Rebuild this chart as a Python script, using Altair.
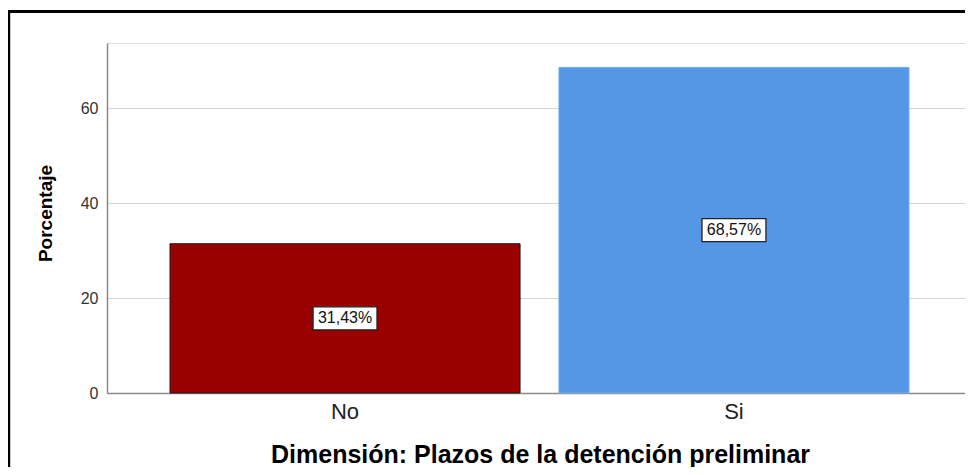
import altair as alt
import pandas as pd

categories = ["No", "Si"]
values = [31.43, 68.57]
labels = ["31,43%", "68,57%"]
bar_colors = ["#990000", "#5596E6"]
edge_colors = ["#1a1a1a", "#7aaeee"]

df = pd.DataFrame({"cat": categories, "val": values, "lab": labels})
df["mid"] = df["val"] / 2

FONT = "Liberation Sans"

x_enc = alt.X(
    "cat:N",
    sort=categories,
    scale=alt.Scale(range=[0, 865], paddingInner=0.1, paddingOuter=0.162),
    axis=alt.Axis(
        title="Dimensión: Plazos de la detención preliminar",
        labelAngle=0,
        labelFontSize=22,
        labelColor="#222222",
        labelFont=FONT,
        labelPadding=8,
        ticks=False,
        domainColor="#8a8a8a",
        domainWidth=1.5,
        titleFont=FONT,
        titleFontSize=25,
        titleFontWeight="bold",
        titleColor="#000000",
        titleX=433,
        titleY=69,
        titleAlign="center",
        titleBaseline="alphabetic",
    ),
)

y_axis = alt.Axis(
    title="Porcentaje",
    values=[0, 20, 40, 60],
    ticks=False,
    labelFontSize=16,
    labelColor="#333333",
    labelFont=FONT,
    labelPadding=9,
    domainColor="#8a8a8a",
    domainWidth=1.5,
    gridColor="#d4d4d4",
    gridWidth=1,
    titleFont=FONT,
    titleFontSize=19,
    titleFontWeight="bold",
    titleColor="#000000",
    titleX=-62,
    titleY=170,
    titleAlign="center",
    titleBaseline="middle",
    titleAngle=270,
)

base = alt.Chart(df)

bars = base.mark_bar(strokeWidth=1).encode(
    x=x_enc,
    y=alt.Y("val:Q", scale=alt.Scale(domain=[0, 73.7], nice=False), axis=y_axis),
    color=alt.Color("cat:N", scale=alt.Scale(domain=categories, range=bar_colors), legend=None),
    stroke=alt.Stroke("cat:N", scale=alt.Scale(domain=categories, range=edge_colors), legend=None),
)

boxes = base.mark_point(
    shape="M-2.78,-1 H2.78 V1 H-2.78 Z",
    filled=True,
    fill="#ffffff",
    stroke="#222222",
    strokeWidth=1.3,
    opacity=1,
    size=529,
).encode(
    x=alt.X("cat:N", sort=categories),
    y=alt.Y("mid:Q"),
)

texts = base.mark_text(font=FONT, fontSize=16, color="#111111").encode(
    x=alt.X("cat:N", sort=categories),
    y=alt.Y("mid:Q"),
    text="lab:N",
)

frame_df = pd.DataFrame({"k": [0]})
frame_left = alt.Chart(frame_df).mark_rule(color="#000000", strokeWidth=3).encode(
    x=alt.value(-98.3), y=alt.value(-33), y2=alt.value(470)
)
frame_top = alt.Chart(frame_df).mark_rule(color="#000000", strokeWidth=3).encode(
    x=alt.value(-99.8), x2=alt.value(900), y=alt.value(-31.5)
)

chart = (
    alt.layer(bars, boxes, texts, frame_left, frame_top)
    .properties(
        width=858,
        height=350,
        autosize=alt.AutoSizeParams(type="none"),
        padding={"left": 99, "top": 35, "right": 0, "bottom": 74},
    )
    .configure_view(stroke=None)
    .configure(background="#ffffff")
)

chart.save("out.html", embed_options={"renderer": "svg", "actions": False})
